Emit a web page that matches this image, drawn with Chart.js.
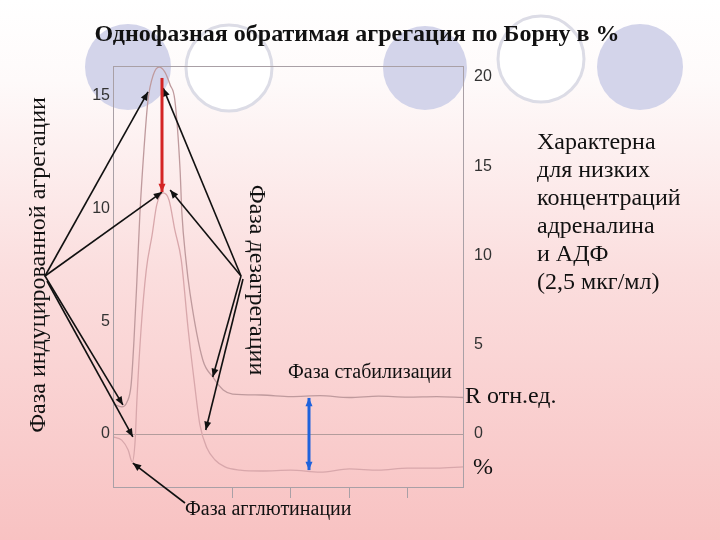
<!DOCTYPE html>
<html>
<head>
<meta charset="utf-8">
<script src="https://cdn.jsdelivr.net/npm/chart.js@4"></script>
<style>
  html, body { margin: 0; padding: 0; background: #fff; }
  #wrap { width: 720px; height: 540px; }
</style>
</head>
<body>
<div id="wrap"><canvas id="c" width="720" height="540"></canvas></div>
<script>
// кривая R (отн.ед.)
const timeR = [-0.05, 0.1, 0.19, 0.26, 0.31, 0.36, 0.41, 0.48, 0.55, 0.64, 0.74, 0.84, 0.93, 1.01, 1.1, 1.13, 1.2, 1.27, 1.49, 1.66, 1.84, 2.0, 2.5, 3.0, 3.5, 4.0, 4.5, 5.0, 5.5, 5.95];
const valR = [1.33, 1.2, 1.42, 2.17, 4.17, 6.83, 9.71, 12.59, 14.81, 15.92, 16.27, 16.05, 15.48, 14.81, 11.71, 9.84, 7.72, 6.25, 3.28, 2.53, 1.95, 1.77, 1.73, 1.66, 1.7, 1.62, 1.68, 1.64, 1.66, 1.62];
// кривая %
const timePct = [-0.05, 0.1, 0.21, 0.28, 0.33, 0.36, 0.43, 0.52, 0.62, 0.7, 0.81, 0.91, 1.01, 1.12, 1.24, 1.34, 1.44, 1.56, 1.7, 1.87, 2.13, 2.5, 3.0, 3.5, 4.0, 4.5, 5.0, 5.5, 5.95];
const valPct = [-0.13, -0.27, -0.71, -1.24, -0.27, 1.51, 4.61, 7.27, 8.82, 10.16, 10.69, 10.38, 9.05, 7.72, 4.61, 2.39, 0.4, -0.62, -1.15, -1.46, -1.6, -1.64, -1.6, -1.69, -1.55, -1.6, -1.51, -1.51, -1.46];

const leftTicks = [0, 5, 10, 15];
const rightTicks = [0, 5, 10, 15, 20];
const timeTicks = [2, 3, 4, 5];

const infoLines = ["Характерна", "для низких", "концентраций", "адреналина", "и АДФ", "(2,5 мкг/мл)"];

const SERIF = '"Liberation Serif", "Times New Roman", serif';
const GRID = "#a9a0a6";

function arrow(ctx, x1, y1, x2, y2, color, width, head, both) {
  ctx.save();
  ctx.strokeStyle = color;
  ctx.fillStyle = color;
  ctx.lineWidth = width;
  ctx.beginPath();
  ctx.moveTo(x1, y1);
  ctx.lineTo(x2, y2);
  ctx.stroke();
  const tip = (ax, ay, bx, by) => {
    const a = Math.atan2(by - ay, bx - ax);
    ctx.beginPath();
    ctx.moveTo(bx, by);
    ctx.lineTo(bx - head * Math.cos(a - 0.4), by - head * Math.sin(a - 0.4));
    ctx.lineTo(bx - head * Math.cos(a + 0.4), by - head * Math.sin(a + 0.4));
    ctx.closePath();
    ctx.fill();
  };
  tip(x1, y1, x2, y2);
  if (both) tip(x2, y2, x1, y1);
  ctx.restore();
}

const backdrop = {
  id: "backdrop",
  beforeDraw(chart) {
    const { ctx, width, height } = chart;
    ctx.save();
    const g = ctx.createLinearGradient(0, 0, 0, height);
    g.addColorStop(0, "#ffffff");
    g.addColorStop(0.15, "#fefafa");
    g.addColorStop(0.5, "#fbdede");
    g.addColorStop(1, "#f8c2c2");
    ctx.fillStyle = g;
    ctx.fillRect(0, 0, width, height);

    // декоративные круги слайда
    const circles = [
      [128, 67, 43, true], [229, 68, 43, false], [425, 68, 42, true],
      [541, 59, 43, false], [640, 67, 43, true]
    ];
    circles.forEach(([x, y, r, filled]) => {
      ctx.beginPath();
      ctx.arc(x, y, r, 0, Math.PI * 2);
      if (filled) {
        ctx.fillStyle = "#d3d4ea";
        ctx.fill();
      } else {
        ctx.fillStyle = "#ffffff";
        ctx.fill();
        ctx.lineWidth = 3;
        ctx.strokeStyle = "#dcdce6";
        ctx.stroke();
      }
    });
    ctx.restore();
  }
};

const notes = {
  id: "notes",
  afterDraw(chart) {
    const { ctx, chartArea: a, scales } = chart;
    const X = (v) => scales.x.getPixelForValue(v);
    const Y = (v) => scales.y.getPixelForValue(v);

    ctx.save();
    ctx.strokeStyle = GRID;
    ctx.lineWidth = 1;
    ctx.strokeRect(a.left + 0.5, a.top + 0.5, a.right - a.left, a.bottom - a.top);

    // стрелки от подписей к участкам кривых
    const k = "#111";
    [[0.55, 15.17], [0.79, 10.73], [0.12, 1.29]].forEach(([x, y]) =>
      arrow(ctx, 45, 276, X(x), Y(y), k, 1.6, 9));
    arrow(ctx, 47, 281, X(0.29), Y(-0.13), k, 1.6, 9);
    [[0.81, 15.34], [0.93, 10.82], [1.66, 2.53]].forEach(([x, y]) =>
      arrow(ctx, 241, 276, X(x), Y(y), k, 1.6, 9));
    arrow(ctx, 243, 279, X(1.54), Y(0.18), k, 1.6, 9);
    arrow(ctx, 185, 503, X(0.29), Y(-1.29), k, 1.6, 9);

    arrow(ctx, X(0.79), Y(15.79), X(0.79), Y(10.73), "#d42424", 3, 9);
    arrow(ctx, X(3.31), Y(1.6), X(3.31), Y(-1.6), "#1f62dc", 3, 9, true);

    ctx.fillStyle = "#111";
    ctx.textBaseline = "middle";
    ctx.textAlign = "center";
    ctx.font = "bold 24px " + SERIF;
    ctx.fillText("Однофазная обратимая агрегация по Борну в %", 357, 35);

    ctx.font = "24px " + SERIF;
    ctx.save();
    ctx.translate(39, 265);
    ctx.rotate(-Math.PI / 2);
    ctx.fillText("Фаза индуцированной агрегации", 0, 0);
    ctx.restore();

    ctx.save();
    ctx.translate(256, 280);
    ctx.rotate(Math.PI / 2);
    ctx.fillText("Фаза дезагрегации", 0, 0);
    ctx.restore();

    ctx.textAlign = "left";
    ctx.font = "20px " + SERIF;
    ctx.fillText("Фаза стабилизации", 288, 373);
    ctx.fillText("Фаза агглютинации", 185, 510);

    ctx.font = "24px " + SERIF;
    infoLines.forEach((t, i) => ctx.fillText(t, 537, 143 + i * 28));
    ctx.fillText("R отн.ед.", 465, 397);
    ctx.fillText("%", 473, 468);
    ctx.restore();
  }
};

new Chart(document.getElementById("c"), {
  type: "line",
  data: {
    datasets: [
      {
        label: "R",
        data: timeR.map((t, i) => ({ x: t, y: valR[i] })),
        borderColor: "#bf9a9d",
        borderWidth: 1.3,
        pointRadius: 0,
        cubicInterpolationMode: "monotone",
        yAxisID: "y"
      },
      {
        label: "%",
        data: timePct.map((t, i) => ({ x: t, y: valPct[i] })),
        borderColor: "#d8a7ab",
        borderWidth: 1.3,
        pointRadius: 0,
        cubicInterpolationMode: "monotone",
        yAxisID: "y"
      }
    ]
  },
  options: {
    responsive: false,
    animation: false,
    layout: { padding: { left: 83, right: 227, top: 66, bottom: 39 } },
    plugins: { legend: { display: false }, tooltip: { enabled: false } },
    scales: {
      x: {
        type: "linear",
        min: -0.05,
        max: 5.95,
        afterBuildTicks: (s) => { s.ticks = timeTicks.map((v) => ({ value: v })); },
        afterFit: (s) => { s.height = 14; },
        border: { display: false },
        grid: { drawOnChartArea: false, drawTicks: true, tickLength: 11, color: GRID },
        ticks: { display: false }
      },
      y: {
        position: "left",
        min: -2.35,
        max: 16.32,
        afterBuildTicks: (s) => { s.ticks = leftTicks.map((v) => ({ value: v })); },
        afterFit: (s) => { s.width = 30; },
        border: { display: false },
        grid: {
          drawTicks: false,
          color: (c) => (c.tick && c.tick.value === 0 ? "#b39c9c" : "transparent")
        },
        ticks: {
          padding: 3,
          color: "#333",
          font: { family: '"Liberation Sans", Arial, sans-serif', size: 16 }
        }
      },
      y1: {
        position: "right",
        min: -2.97,
        max: 20.62,
        afterBuildTicks: (s) => { s.ticks = rightTicks.map((v) => ({ value: v })); },
        afterFit: (s) => { s.width = 30; },
        border: { display: false },
        grid: { display: false },
        ticks: {
          padding: 3,
          color: "#333",
          font: { family: '"Liberation Sans", Arial, sans-serif', size: 16 }
        }
      }
    }
  },
  plugins: [backdrop, notes]
});
</script>
</body>
</html>
